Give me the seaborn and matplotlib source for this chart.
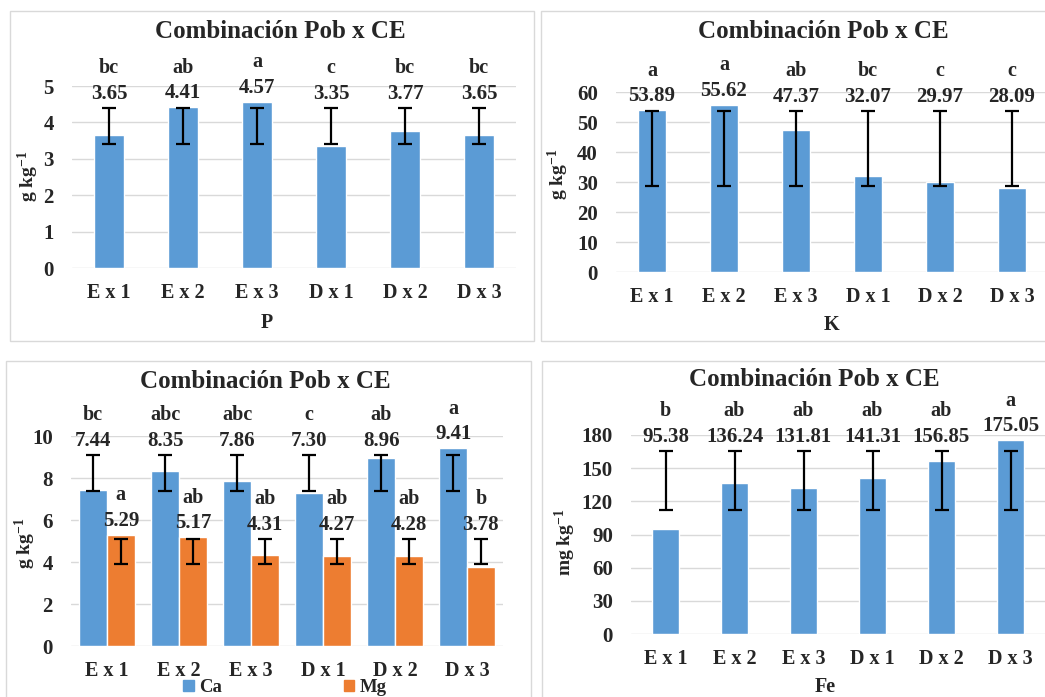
import numpy as np
import pandas as pd
import matplotlib
matplotlib.use("Agg")
import matplotlib.pyplot as plt
import seaborn as sns
from matplotlib.patches import Rectangle, Patch

# ---------------- data ----------------
categories = ["E x 1", "E x 2", "E x 3", "D x 1", "D x 2", "D x 3"]

p_values = [3.65, 4.41, 4.57, 3.35, 3.77, 3.65]
p_letters = ["bc", "ab", "a", "c", "bc", "bc"]
p_err_low = [3.41, 3.41, 3.41, 3.41, 3.41, 3.41]
p_err_high = [4.40, 4.40, 4.40, 4.40, 4.40, 4.40]

k_values = [53.89, 55.62, 47.37, 32.07, 29.97, 28.09]
k_letters = ["a", "a", "ab", "bc", "c", "c"]
k_err_low = [28.7, 28.7, 28.7, 28.7, 28.7, 28.7]
k_err_high = [53.7, 53.7, 53.7, 53.7, 53.7, 53.7]

ca_values = [7.44, 8.35, 7.86, 7.30, 8.96, 9.41]
ca_letters = ["bc", "abc", "abc", "c", "ab", "a"]
ca_err_low = [7.38, 7.38, 7.38, 7.38, 7.38, 7.38]
ca_err_high = [9.10, 9.10, 9.10, 9.10, 9.10, 9.10]

mg_values = [5.29, 5.17, 4.31, 4.27, 4.28, 3.78]
mg_letters = ["a", "ab", "ab", "ab", "ab", "b"]
mg_err_low = [3.90, 3.90, 3.90, 3.90, 3.90, 3.90]
mg_err_high = [5.10, 5.10, 5.10, 5.10, 5.10, 5.10]

fe_values = [95.38, 136.24, 131.81, 141.31, 156.85, 175.05]
fe_letters = ["b", "ab", "ab", "ab", "ab", "a"]
fe_err_low = [112.2, 112.2, 112.2, 112.2, 112.2, 112.2]
fe_err_high = [165.5, 165.5, 165.5, 165.5, 165.5, 165.5]

title_text = "Combinación Pob x CE"

# ---------------- style ----------------
sns.set_style("white")
plt.rcParams["font.family"] = ["Liberation Serif", "DejaVu Serif"]
plt.rcParams["font.weight"] = "bold"
plt.rcParams["mathtext.fontset"] = "custom"
plt.rcParams["mathtext.rm"] = "Liberation Serif:bold"
plt.rcParams["mathtext.it"] = "Liberation Serif:italic:bold"
plt.rcParams["mathtext.bf"] = "Liberation Serif:bold"

BLUE = "#5B9BD5"
ORANGE = "#ED7D31"
GRID = "#D9D9D9"
W, H = 1045, 697

fig = plt.figure(figsize=(W / 100, H / 100), dpi=100)
fig.patch.set_facecolor("white")


def rect(l, r, top, bottom):
    return [l / W, 1 - bottom / H, (r - l) / W, (bottom - top) / H]


def ftext(x, y, s, size, **kw):
    fig.text(x / W, 1 - y / H, s, fontsize=size, fontweight="bold",
             ha="center", va="center", **kw)


def border(x0, y0, x1, y1):
    fig.patches.append(Rectangle((x0 / W, 1 - y1 / H), (x1 - x0) / W, (y1 - y0) / H,
                                 transform=fig.transFigure, fill=False,
                                 edgecolor=GRID, lw=1.0, zorder=0))


def style_ax(ax, ymax, step):
    ax.set_ylim(0, ymax)
    ax.set_xlim(-0.5, 5.5)
    ax.set_yticks(np.arange(0, ymax + step / 2, step))
    for s in ax.spines.values():
        s.set_visible(False)
    ax.yaxis.grid(True, color=GRID, lw=1.0)
    ax.xaxis.grid(False)
    ax.set_axisbelow(True)
    ax.set_xlabel("")
    ax.set_ylabel("")
    ax.tick_params(axis="y", length=0, pad=13, labelsize=15)
    ax.tick_params(axis="x", length=0, pad=11, labelsize=14.5)
    for t in ax.get_xticklabels() + ax.get_yticklabels():
        t.set_fontweight("bold")
    ax.patch.set_alpha(0)


def annotate(ax, xs, values, letters, hi):
    for x, v, l, h in zip(xs, values, letters, hi):
        top = max(v, h)
        ax.annotate(f"{v:.2f}", (x, top), xytext=(0, 6.5), textcoords="offset points",
                    ha="center", va="baseline", fontsize=15, fontweight="bold",
                    annotation_clip=False)
        ax.annotate(l, (x, top), xytext=(0, 25), textcoords="offset points",
                    ha="center", va="baseline", fontsize=14.5, fontweight="bold",
                    annotation_clip=False)


def errbars(ax, xs, lo, hi):
    lo = np.array(lo)
    hi = np.array(hi)
    ax.errorbar(xs, (lo + hi) / 2, yerr=(hi - lo) / 2, fmt="none", ecolor="black",
                elinewidth=1.6, capsize=4.7, capthick=1.6, zorder=5)


def single_panel(rc, values, letters, lo, hi, ymax, step):
    ax = fig.add_axes(rc)
    df = pd.DataFrame({"cat": categories, "val": values})
    sns.barplot(data=df, x="cat", y="val", color=BLUE, saturation=1, width=0.4,
                errorbar=None, ax=ax)
    style_ax(ax, ymax, step)
    xs = [b.get_x() + b.get_width() / 2 for b in ax.containers[0]]
    errbars(ax, xs, lo, hi)
    annotate(ax, xs, values, letters, hi)
    return ax


# ---------------- borders ----------------
border(10, 11, 534, 341)
border(541, 11, 1100, 341)
border(6, 361, 531, 760)
border(542, 361, 1100, 760)

# ---------------- P ----------------
single_panel(rect(72, 516, 86, 268), p_values, p_letters, p_err_low, p_err_high, 5, 1)
ftext(280, 31, title_text, 18)
ftext(267, 323, "P", 14.5)
ftext(28, 176, r"g kg$^{-1}$", 14, rotation=90)

# ---------------- K ----------------
single_panel(rect(616, 1048, 92, 272), k_values, k_letters, k_err_low, k_err_high, 60, 10)
ftext(823, 31, title_text, 18)
ftext(832, 325, "K", 14.5)
ftext(558, 174, r"g kg$^{-1}$", 14, rotation=90)

# ---------------- Ca / Mg ----------------
ax3 = fig.add_axes(rect(71, 503, 436, 646))
df3 = pd.DataFrame({
    "cat": categories + categories,
    "el": ["Ca"] * len(categories) + ["Mg"] * len(categories),
    "val": ca_values + mg_values,
})
sns.barplot(data=df3, x="cat", y="val", hue="el", palette=[BLUE, ORANGE], saturation=1,
            width=0.77, gap=0, errorbar=None, legend=False, ax=ax3)
style_ax(ax3, 10, 2)
xs_ca = [b.get_x() + b.get_width() / 2 for b in ax3.containers[0]]
xs_mg = [b.get_x() + b.get_width() / 2 for b in ax3.containers[1]]
errbars(ax3, xs_ca, ca_err_low, ca_err_high)
errbars(ax3, xs_mg, mg_err_low, mg_err_high)
annotate(ax3, xs_ca, ca_values, ca_letters, ca_err_high)
annotate(ax3, xs_mg, mg_values, mg_letters, mg_err_high)
ftext(265, 382, title_text, 18)
ftext(25, 543, r"g kg$^{-1}$", 14, rotation=90)
fig.legend(handles=[Patch(color=BLUE, label="Ca"), Patch(color=ORANGE, label="Mg")],
           loc="center", bbox_to_anchor=(285 / W, 1 - 687.5 / H), ncol=2, frameon=False,
           borderpad=0.1, handlelength=0.55, handleheight=0.55, handletextpad=0.3,
           columnspacing=6.5, prop={"size": 13.5, "weight": "bold"})

# ---------------- Fe ----------------
single_panel(rect(631, 1045, 435, 634), fe_values, fe_letters, fe_err_low, fe_err_high, 180, 30)
ftext(814, 380, title_text, 18)
ftext(825, 687, "Fe", 14.5)
ftext(565, 542, r"mg kg$^{-1}$", 14, rotation=90)

fig.savefig("out.png", dpi=100, facecolor="white")
